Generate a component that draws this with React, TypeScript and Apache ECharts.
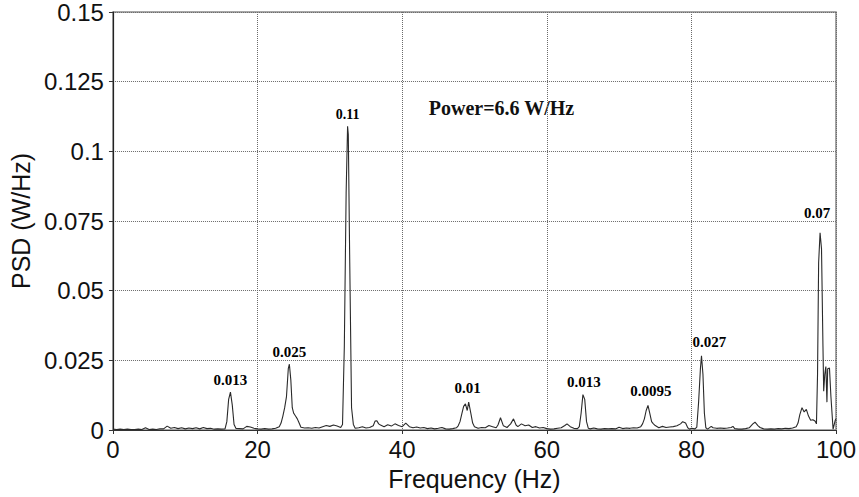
import React, { useEffect, useRef } from "react";
import * as echarts from "echarts";

// Frequency (Hz) and PSD (W/Hz)
const freqs: number[] = [
  0, 0.5, 1, 1.5, 2, 2.5, 3, 3.5, 4, 4.5, 5, 5.5, 6, 6.5, 7, 7.5, 8, 8.5, 9, 9.5,
  10, 10.5, 11, 11.5, 12, 12.5, 13, 13.5, 14, 14.5, 15, 15.5, 15.75, 16, 16.25, 16.5, 16.75, 17, 17.5, 18,
  18.5, 19, 19.5, 20, 20.5, 21, 21.5, 22, 22.5, 23, 23.25, 23.5, 23.75, 24, 24.25, 24.4, 24.6, 24.8, 25, 25.25,
  25.5, 25.75, 26, 26.5, 27, 27.5, 28, 28.5, 29, 29.5, 30, 30.5, 31, 31.5, 31.75, 32, 32.25, 32.45, 32.55, 32.75,
  33, 33.25, 33.5, 34, 34.5, 35, 35.5, 36, 36.25, 36.5, 36.75, 37, 37.5, 38, 38.5, 39, 39.5, 40, 40.5, 41,
  41.5, 42, 42.5, 43, 43.5, 44, 44.5, 45, 45.5, 46, 46.5, 47, 47.5, 47.75, 48, 48.25, 48.5, 48.75, 49, 49.2,
  49.5, 49.75, 50, 50.5, 51, 51.5, 52, 52.5, 53, 53.25, 53.6, 54, 54.5, 55, 55.4, 55.75, 56, 56.5, 57, 57.5,
  58, 58.5, 59, 59.5, 60, 60.5, 61, 61.5, 62, 62.5, 62.8, 63.25, 63.75, 64.25, 64.5, 64.75, 65, 65.25, 65.5, 65.75,
  66, 66.5, 67, 67.5, 68, 68.5, 69, 69.5, 70, 70.5, 71, 71.5, 72, 72.5, 73, 73.25, 73.5, 73.75, 74, 74.25,
  74.5, 74.75, 75, 75.5, 76, 76.5, 77, 77.5, 78, 78.5, 78.8, 79.2, 79.5, 79.75, 80, 80.5, 80.75, 81, 81.25, 81.4,
  81.6, 81.8, 82, 82.25, 82.75, 83, 83.5, 84, 84.5, 85, 85.5, 85.75, 86, 86.5, 87, 87.5, 88, 88.5, 88.8, 89.2,
  89.5, 90, 90.5, 91, 91.5, 92, 92.5, 93, 93.5, 94, 94.5, 94.75, 95, 95.3, 95.6, 95.9, 96.2, 96.5, 96.8, 97.1,
  97.3, 97.45, 97.6, 97.8, 98, 98.2, 98.3, 98.45, 98.6, 98.75, 98.85, 99.1, 99.3, 99.6, 99.9, 100,
];

const psd: number[] = [
  0.0003, 0.0002, 0.0003, 0.0002, 0.0003, 0.0002, 0.0002, 0.0003, 0.0002, 0.0008, 0.0002, 0.0003, 0.0002, 0.0004, 0.0004, 0.0014, 0.0006, 0.0009, 0.0005, 0.0008,
  0.0004, 0.0007, 0.0005, 0.0008, 0.0004, 0.0009, 0.0005, 0.0006, 0.0003, 0.0004, 0.0003, 0.0004, 0.003, 0.011, 0.0136, 0.009, 0.002, 0.0006, 0.0005, 0.0004,
  0.0013, 0.0011, 0.0006, 0.0004, 0.0003, 0.0005, 0.0003, 0.0004, 0.0006, 0.0012, 0.0025, 0.005, 0.008, 0.012, 0.022, 0.0236, 0.018, 0.008, 0.006, 0.005,
  0.004, 0.0025, 0.001, 0.0007, 0.0008, 0.0006, 0.0009, 0.0007, 0.0012, 0.0016, 0.0013, 0.0018, 0.0014, 0.0009, 0.002, 0.03, 0.085, 0.109, 0.106, 0.06,
  0.008, 0.002, 0.0006, 0.0008, 0.0012, 0.0007, 0.0009, 0.0015, 0.0032, 0.0033, 0.0022, 0.0018, 0.0012, 0.0019, 0.0014, 0.0022, 0.0016, 0.0012, 0.0025, 0.0012,
  0.0008, 0.0011, 0.0007, 0.0009, 0.0005, 0.0007, 0.0004, 0.0006, 0.0009, 0.0004, 0.0003, 0.0005, 0.0008, 0.0015, 0.003, 0.0058, 0.0085, 0.0094, 0.007, 0.01,
  0.006, 0.0025, 0.0012, 0.0006, 0.0009, 0.0008, 0.0016, 0.0012, 0.0008, 0.0018, 0.0044, 0.0015, 0.0009, 0.0022, 0.004, 0.0018, 0.0012, 0.0022, 0.0015, 0.0018,
  0.0009, 0.0012, 0.0007, 0.0009, 0.0005, 0.0003, 0.0004, 0.0006, 0.0008, 0.0016, 0.0022, 0.0012, 0.0006, 0.0005, 0.0012, 0.006, 0.0127, 0.011, 0.003, 0.0006,
  0.0004, 0.0007, 0.0004, 0.0003, 0.0005, 0.0004, 0.0005, 0.0004, 0.001, 0.0005, 0.0007, 0.0006, 0.0008, 0.0007, 0.0012, 0.0022, 0.004, 0.007, 0.0088, 0.006,
  0.003, 0.0022, 0.0016, 0.0008, 0.0013, 0.0009, 0.0011, 0.0012, 0.0015, 0.0022, 0.003, 0.0025, 0.0008, 0.0003, 0.0006, 0.0004, 0.001, 0.01, 0.022, 0.0266,
  0.02, 0.006, 0.0008, 0.0003, 0.0013, 0.0008, 0.0006, 0.0007, 0.0006, 0.0007, 0.0009, 0.0013, 0.0005, 0.0003, 0.0003, 0.0005, 0.0008, 0.0022, 0.0028, 0.0016,
  0.0009, 0.0004, 0.0003, 0.0004, 0.0003, 0.0005, 0.0004, 0.0006, 0.0005, 0.0007, 0.0012, 0.0025, 0.0055, 0.008, 0.0065, 0.0074, 0.005, 0.0035, 0.0037, 0.0032,
  0.0022, 0.02, 0.06, 0.0708, 0.065, 0.03, 0.0139, 0.02, 0.0228, 0.01, 0.022, 0.0222, 0.012, 0.0003, 0.0035, 0.004,
];

// Peak annotations
const peakFreqs: number[] = [16.25, 24.4, 32.45, 49.2, 65.0, 74.0, 81.4, 97.8];
const peakValues: number[] = [0.0136, 0.0236, 0.109, 0.01, 0.0127, 0.0088, 0.0266, 0.0708];
const peakLabels: string[] = ["0.013", "0.025", "0.11", "0.01", "0.013", "0.0095", "0.027", "0.07"];
// pixel offsets and font sizes of each label relative to its peak (layout only)
const labelOffsets: number[][] = [[0, 2], [0, 2], [0, 2], [-1, 0], [1, 1], [3, 0], [8, 0], [-3, -6]];
const labelSizes: number[] = [15, 15, 14, 15, 15, 15, 15, 15];

const xTicks = { min: 0, max: 100, interval: 20 };
const yTicks = { min: 0, max: 0.15, interval: 0.025 };
const powerText = "Power=6.6 W/Hz";

export default function App() {
  const ref = useRef<HTMLDivElement>(null);
  useEffect(() => {
    if (!ref.current) return;
    const chart = echarts.init(ref.current, undefined, { renderer: "svg" });
    const lineData = freqs.map((f, i) => [f, psd[i]]);
    const peakData = peakFreqs.map((f, i) => ({
      value: [f, peakValues[i]],
      label: { formatter: peakLabels[i], offset: labelOffsets[i], fontSize: labelSizes[i] },
    }));
    const axisFont = { fontFamily: "Liberation Sans, Arial, sans-serif", fontSize: 24, color: "#111" };
    chart.setOption({
      animation: false,
      backgroundColor: "#fff",
      grid: {
        left: 112.5,
        right: 22.5,
        top: 7,
        bottom: 67,
        show: true,
        borderColor: "#8a8a8a",
        borderWidth: 1.5,
      },
      xAxis: {
        type: "value",
        min: xTicks.min,
        max: xTicks.max,
        interval: xTicks.interval,
        name: "Frequency (Hz)",
        nameLocation: "middle",
        nameGap: 36,
        nameTextStyle: { ...axisFont, fontSize: 25 },
        axisLine: { show: true, lineStyle: { color: "#333", width: 1.2 } },
        axisTick: { show: true, length: 4, lineStyle: { color: "#333" } },
        axisLabel: { ...axisFont, margin: 7 },
        splitLine: { show: true, lineStyle: { color: "#6a6a6a", type: "dotted", width: 1 } },
      },
      yAxis: {
        type: "value",
        min: yTicks.min,
        max: yTicks.max,
        interval: yTicks.interval,
        name: "PSD (W/Hz)",
        nameLocation: "middle",
        nameGap: 77,
        nameTextStyle: { ...axisFont, fontSize: 25 },
        axisLine: { show: true, lineStyle: { color: "#222", width: 1.2 } },
        axisTick: { show: true, length: 4, lineStyle: { color: "#333" } },
        axisLabel: {
          ...axisFont,
          margin: 9,
          formatter: (v: number) => String(parseFloat(v.toFixed(3))),
        },
        splitLine: { show: true, lineStyle: { color: "#6a6a6a", type: "dotted", width: 1 } },
      },
      series: [
        {
          type: "line",
          data: lineData,
          showSymbol: false,
          symbol: "none",
          lineStyle: { color: "#2a2a2a", width: 1.1 },
          z: 3,
        },
        {
          type: "scatter",
          data: peakData,
          symbol: "circle",
          symbolSize: 1,
          itemStyle: { color: "rgba(0,0,0,0)" },
          label: {
            show: true,
            position: "top",
            distance: 6,
            fontFamily: "Liberation Serif, Times New Roman, serif",
            fontWeight: "bold",
            fontSize: 15,
            color: "#000",
            opacity: 1,
            textBorderWidth: 0,
          },
          emphasis: { disabled: true },
          z: 4,
        },
      ],
      graphic: [
        {
          type: "text",
          x: 501.5,
          y: 108,
          style: {
            text: powerText,
            fill: "#111",
            font: "bold 20px 'Liberation Serif', 'Times New Roman', serif",
            align: "center",
            verticalAlign: "middle",
          },
        },
      ],
    });
    return () => chart.dispose();
  }, []);
  return <div ref={ref} style={{ width: 859, height: 497, position: "absolute", left: 0, top: 0 }} />;
}
